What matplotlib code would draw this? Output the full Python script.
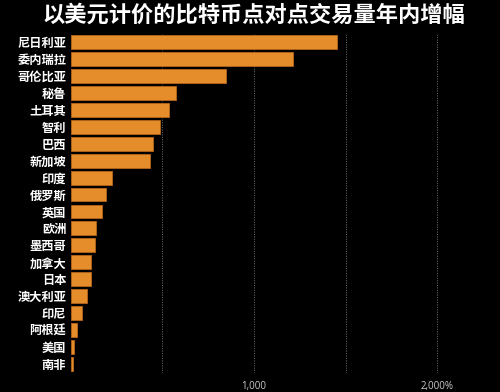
import matplotlib
matplotlib.use("Agg")
import matplotlib.pyplot as plt

plt.rcParams['font.family'] = ['Noto Sans CJK SC', 'DejaVu Sans']

countries = ["尼日利亚", "委内瑞拉", "哥伦比亚", "秘鲁", "土耳其", "智利", "巴西", "新加坡",
             "印度", "俄罗斯", "英国", "欧洲", "墨西哥", "加拿大", "日本", "澳大利亚",
             "印尼", "阿根廷", "美国", "南非"]
values = [1455, 1211, 850, 574, 535, 490, 450, 432, 226, 195, 172, 141, 134, 114, 110, 92,
          64, 34, 17, 14]
grid_ticks = [500, 1000, 1500, 2000]
tick_labels = ["", "1,000", "", "2,000%"]
title = "以美元计价的比特币点对点交易量年内增幅"

fig = plt.figure(figsize=(5, 3.92), dpi=100, facecolor="black")
ax = fig.add_axes([0.141, 0.0497, 0.849, 0.8648])
ax.set_facecolor("black")

y = list(range(len(countries)))
ax.barh(y, values, height=0.82, color="#E58D2B", edgecolor="#B5661A", linewidth=0.6, zorder=3)
ax.set_ylim(len(countries) - 0.5, -0.5)
ax.set_xlim(0, 2315)

ax.set_yticks(y)
ax.set_yticklabels(countries, color="white", fontsize=8.8, fontweight="bold")
ax.set_xticks(grid_ticks)
ax.set_xticklabels(tick_labels, color="#cccccc", fontsize=7, family=["Open Sans", "DejaVu Sans"])
ax.tick_params(axis="both", length=0, pad=3)
ax.tick_params(axis="x", pad=6)
ax.xaxis.grid(True, color="#6e6e6e", linestyle=(0, (1, 1.5)), linewidth=0.7, zorder=0)
for s in ax.spines.values():
    s.set_visible(False)

fig.text(0.508, 0.962, title, color="white", fontsize=16, fontweight="bold",
         ha="center", va="center")

fig.savefig("out.png", dpi=100, facecolor="black")
